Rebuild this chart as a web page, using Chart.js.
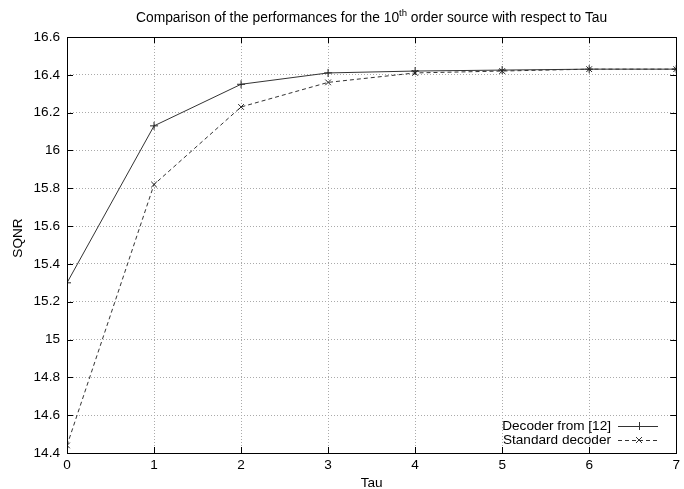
<!DOCTYPE html>
<html><head><meta charset="utf-8">
<script src="https://cdn.jsdelivr.net/npm/chart.js@4"></script>
<style>html,body{margin:0;padding:0;background:#fff}#w{width:684px;height:489px}</style>
</head><body><div id="w"><canvas id="c" width="684" height="489"></canvas></div>
<script>
const tau = [0, 1, 2, 3, 4, 5, 6, 7];
const decoder12 = [15.30, 16.13, 16.35, 16.41, 16.42, 16.425, 16.43, 16.43];
const standardDecoder = [14.44, 15.82, 16.23, 16.36, 16.41, 16.42, 16.43, 16.43];
const yTicks = [14.4, 14.6, 14.8, 15, 15.2, 15.4, 15.6, 15.8, 16, 16.2, 16.4, 16.6];
const xTicks = [0, 1, 2, 3, 4, 5, 6, 7];
const seriesNames = ['Decoder from [12]', 'Standard decoder'];
const FONT = '"Liberation Sans", Arial, sans-serif';

const framePlugin = {
  id: 'frame',
  afterDraw(chart) {
    const {ctx, chartArea: a, scales: {x, y}} = chart;
    ctx.save();
    ctx.strokeStyle = '#000';
    ctx.lineWidth = 1;
    ctx.strokeRect(Math.round(a.left) + 0.5, Math.round(a.top) + 0.5, Math.round(a.right - a.left), Math.round(a.bottom - a.top));
    ctx.beginPath();
    const L = 6;
    yTicks.forEach(v => {
      const py = Math.round(y.getPixelForValue(v)) + 0.5;
      ctx.moveTo(a.left, py); ctx.lineTo(a.left + L, py);
      ctx.moveTo(a.right, py); ctx.lineTo(a.right - L, py);
    });
    xTicks.forEach(v => {
      const px = Math.round(x.getPixelForValue(v)) + 0.5;
      ctx.moveTo(px, a.bottom); ctx.lineTo(px, a.bottom - L);
      ctx.moveTo(px, a.top); ctx.lineTo(px, a.top + L);
    });
    ctx.stroke();
    // title with superscript
    ctx.fillStyle = '#000';
    ctx.textBaseline = 'alphabetic';
    const f1 = '13.8px ' + FONT, f2 = '9.5px ' + FONT;
    const p1 = 'Comparison of the performances for the 10', p2 = 'th', p3 = ' order source with respect to Tau';
    ctx.font = f1; const w1 = ctx.measureText(p1).width, w3 = ctx.measureText(p3).width;
    ctx.font = f2; const w2 = ctx.measureText(p2).width;
    let sx = (a.left + a.right) / 2 - (w1 + w2 + w3) / 2;
    const by = 22;
    ctx.font = f1; ctx.textAlign = 'left'; ctx.fillText(p1, sx, by);
    ctx.font = f2; ctx.fillText(p2, sx + w1, by - 6);
    ctx.font = f1; ctx.fillText(p3, sx + w1 + w2, by);
    // y axis title
    ctx.save();
    ctx.translate(18, 238);
    ctx.rotate(-Math.PI / 2);
    ctx.textAlign = 'center'; ctx.textBaseline = 'middle';
    ctx.font = '13.6px ' + FONT;
    ctx.fillText('SQNR', 0, 0);
    ctx.restore();
    // legend
    ctx.font = '13.6px ' + FONT;
    ctx.textAlign = 'right';
    ctx.textBaseline = 'middle';
    const lx0 = 618, lx1 = 658, mx = 639;
    const rows = [426, 440];
    chart.data.datasets.forEach((ds, i) => {
      const ry = rows[i];
      ctx.fillStyle = '#000';
      ctx.fillText(ds.label, 611, ry);
      ctx.strokeStyle = '#333';
      ctx.setLineDash(i === 1 ? [4, 3] : []);
      ctx.beginPath(); ctx.moveTo(lx0, ry + 0.5); ctx.lineTo(lx1, ry + 0.5); ctx.stroke();
      ctx.setLineDash([]);
      ctx.beginPath();
      if (i === 0) { ctx.moveTo(mx + 0.5, ry - 4); ctx.lineTo(mx + 0.5, ry + 4); }
      else { ctx.moveTo(mx - 3, ry - 3); ctx.lineTo(mx + 3, ry + 3); ctx.moveTo(mx - 3, ry + 3); ctx.lineTo(mx + 3, ry - 3); }
      ctx.stroke();
    });
    ctx.restore();
  }
};

new Chart(document.getElementById('c'), {
  type: 'line',
  data: {
    datasets: [
      { label: seriesNames[0], data: tau.map((t, i) => ({x: t, y: decoder12[i]})), borderColor: '#333', borderWidth: 1, pointStyle: 'cross', pointRadius: 4, pointBorderColor: '#222', pointBorderWidth: 1, tension: 0, fill: false },
      { label: seriesNames[1], data: tau.map((t, i) => ({x: t, y: standardDecoder[i]})), borderColor: '#333', borderWidth: 1, borderDash: [4, 3], pointStyle: 'crossRot', pointRadius: 4, pointBorderColor: '#222', pointBorderWidth: 1, tension: 0, fill: false }
    ]
  },
  options: {
    responsive: false, animation: false, devicePixelRatio: 1,
    layout: { padding: { top: 37, right: 7, bottom: 0, left: 0 } },
    plugins: { legend: { display: false }, tooltip: { enabled: false }, title: { display: false } },
    scales: {
      x: {
        type: 'linear', min: 0, max: 7,
        afterBuildTicks: s => { s.ticks = xTicks.map(v => ({value: v})); },
        afterFit: s => { s.height = 36; },
        grid: { color: '#aaa', lineWidth: 1, drawTicks: false },
        border: { display: false, dash: [1, 2] },
        ticks: { color: '#000', font: { family: FONT, size: 13.6 }, padding: 4, maxRotation: 0, callback: v => String(v) },
        title: { display: true, text: 'Tau', color: '#000', font: { family: FONT, size: 13.6 }, padding: { top: 4, bottom: -2 } }
      },
      y: {
        type: 'linear', min: 14.4, max: 16.6,
        afterBuildTicks: s => { s.ticks = yTicks.map(v => ({value: v})); },
        afterFit: s => { s.width = 67; },
        grid: { color: '#aaa', lineWidth: 1, drawTicks: false },
        border: { display: false, dash: [1, 2] },
        ticks: { color: '#000', font: { family: FONT, size: 13.6 }, padding: 7, callback: v => String(+v.toFixed(1)) }
      }
    }
  },
  plugins: [framePlugin]
});
</script>
</body></html>
